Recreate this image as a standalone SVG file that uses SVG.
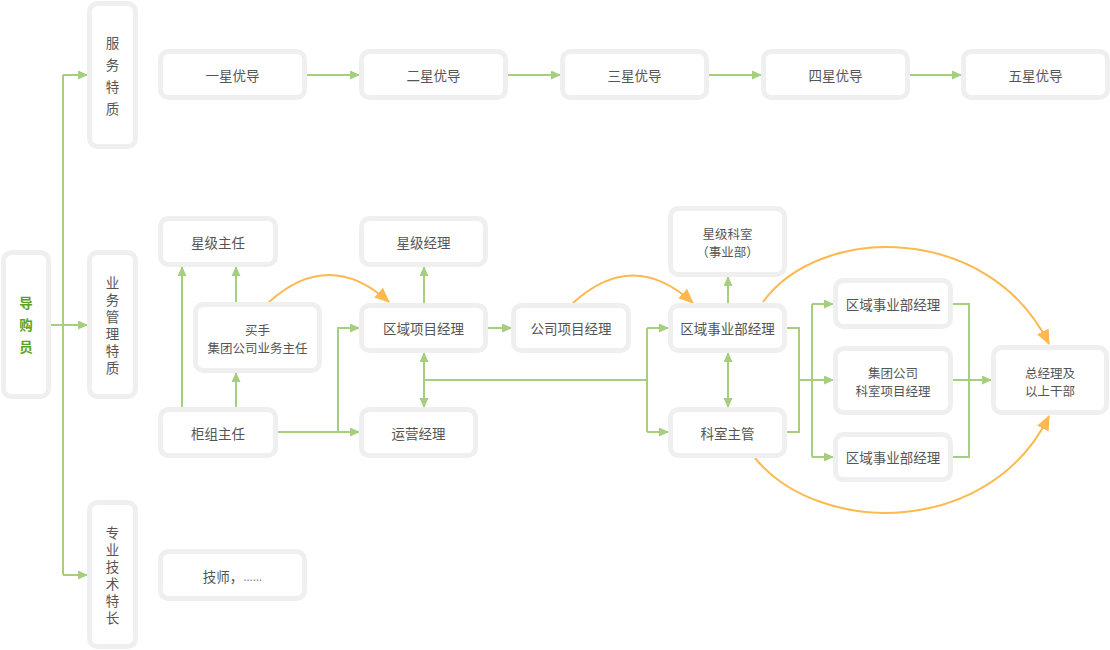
<svg xmlns="http://www.w3.org/2000/svg" width="1110" height="650" viewBox="0 0 1110 650">
<style>
.n rect{fill:#fff;stroke:#efefef;stroke-width:5}
.n text{font-family:"Noto Sans CJK SC","Microsoft YaHei",sans-serif;font-size:13.5px;fill:#555;text-anchor:middle;dominant-baseline:central}
.n text.t{font-size:12.5px}
.n text.v{writing-mode:vertical-rl}
.n text.g{fill:#5aa31c;font-weight:bold}
.c path{fill:none;stroke:#a5cf7f;stroke-width:2}
.c path.a{marker-end:url(#ga)}
.c path.o{stroke:#fdb950;stroke-width:2}
</style>
<defs>
<marker id="ga" markerUnits="userSpaceOnUse" markerWidth="12" markerHeight="10" refX="9" refY="4.5" orient="auto"><path d="M0,0 L10,4.5 L0,9 z" fill="#a5cf7f"/></marker>
<marker id="oa" markerUnits="userSpaceOnUse" markerWidth="16" markerHeight="14" refX="14" refY="6.5" orient="auto"><path d="M0,0 L15,6.5 L0,13 z" fill="#fdb950"/></marker>
</defs>
<g class="c" id="connectors">
<path d="M51,325 H63 M63,75 V575"/>
<path class="a" d="M63,75 H87"/>
<path class="a" d="M63,325 H87"/>
<path class="a" d="M63,575 H87"/>
<path class="a" d="M307,75 H359"/>
<path class="a" d="M508,75 H560"/>
<path class="a" d="M709,75 H761"/>
<path class="a" d="M910,75 H961"/>
<path class="a" d="M182,407 V267"/>
<path class="a" d="M236,302 V267"/>
<path class="a" d="M236,407 V373"/>
<path class="a" d="M278,432 H359"/>
<path class="a" d="M338,432 V328 H359"/>
<path class="a" d="M424,303 V267"/>
<path class="a" d="M424,380 V353"/>
<path class="a" d="M424,380 V407"/>
<path d="M424,380 H647 M647,328 V432"/>
<path class="a" d="M647,328 H668"/>
<path class="a" d="M647,432 H668"/>
<path class="a" d="M488,328 H511"/>
<path class="a" d="M728,303 V277"/>
<path class="a" d="M728,380 V353"/>
<path class="a" d="M728,380 V407"/>
<path d="M787,328 H799 V432 H787 M799,380 H812 M812,304 V457"/>
<path class="a" d="M812,304 H833"/>
<path class="a" d="M812,380 H833"/>
<path class="a" d="M812,457 H833"/>
<path d="M953,304 H969 V457 H953"/>
<path class="a" d="M953,380 H991"/>
<path class="o" marker-end="url(#oa)" d="M269,302 Q329,248 389,302"/>
<path class="o" marker-end="url(#oa)" d="M573,303 Q633,248 693,303"/>
<path class="o" marker-end="url(#oa)" d="M763,302 C820,223 990,223 1049,344"/>
<path class="o" marker-end="url(#oa)" d="M755,458 C820,537 990,537 1049,416"/>
</g>
<g class="n" id="n-daogouyuan"><rect x="3.5" y="252.5" width="45" height="144" rx="8"/><text class="g v" x="26" y="329.5" letter-spacing="8.5">导购员</text></g>
<g class="n" id="n-fuwu"><rect x="89.5" y="3.5" width="46" height="143" rx="8"/><text class="v" x="112.5" y="80" letter-spacing="8.5">服务特质</text></g>
<g class="n" id="n-yewu"><rect x="89.5" y="252.5" width="46" height="144" rx="8"/><text class="v" x="112.5" y="327.5" letter-spacing="3.5">业务管理特质</text></g>
<g class="n" id="n-zhuanye"><rect x="89.5" y="502.5" width="46" height="144" rx="8"/><text class="v" x="112.5" y="577.5" letter-spacing="3.5">专业技术特长</text></g>
<g class="n" id="n-star1"><rect x="160.5" y="51.5" width="144" height="46" rx="8"/><text x="232.5" y="75">一星优导</text></g>
<g class="n" id="n-star2"><rect x="361.5" y="51.5" width="144" height="46" rx="8"/><text x="433.5" y="75">二星优导</text></g>
<g class="n" id="n-star3"><rect x="562.5" y="51.5" width="144" height="46" rx="8"/><text x="634.5" y="75">三星优导</text></g>
<g class="n" id="n-star4"><rect x="763.5" y="51.5" width="144" height="46" rx="8"/><text x="835.5" y="75">四星优导</text></g>
<g class="n" id="n-star5"><rect x="963.5" y="51.5" width="144" height="46" rx="8"/><text x="1035.5" y="75">五星优导</text></g>
<g class="n" id="n-xjzr"><rect x="160.5" y="218.5" width="115" height="46" rx="8"/><text x="218" y="242">星级主任</text></g>
<g class="n" id="n-xjjl"><rect x="361.5" y="218.5" width="124" height="46" rx="8"/><text x="423.5" y="242">星级经理</text></g>
<g class="n" id="n-maishou"><rect x="195.5" y="304.5" width="124" height="66" rx="8"/><text class="t" x="257.5" y="329">买手<tspan x="257.5" dy="18.2">集团公司业务主任</tspan></text></g>
<g class="n" id="n-qyxmjl"><rect x="361.5" y="305.5" width="124" height="45" rx="8"/><text x="423.5" y="328">区域项目经理</text></g>
<g class="n" id="n-gzzr"><rect x="160.5" y="409.5" width="115" height="46" rx="8"/><text x="218" y="433">柜组主任</text></g>
<g class="n" id="n-yyjl"><rect x="361.5" y="409.5" width="114" height="46" rx="8"/><text x="418.5" y="433">运营经理</text></g>
<g class="n" id="n-gsxmjl"><rect x="513.5" y="305.5" width="115" height="45" rx="8"/><text x="571" y="328">公司项目经理</text></g>
<g class="n" id="n-xjks"><rect x="670.5" y="208.5" width="114" height="66" rx="8"/><text class="t" x="727.5" y="233">星级科室<tspan x="727.5" dy="18.2">（事业部）</tspan></text></g>
<g class="n" id="n-qysybjl"><rect x="670.5" y="305.5" width="114" height="45" rx="8"/><text x="727.5" y="328">区域事业部经理</text></g>
<g class="n" id="n-kszg"><rect x="670.5" y="409.5" width="114" height="46" rx="8"/><text x="727.5" y="433">科室主管</text></g>
<g class="n" id="n-qysyb1"><rect x="835.5" y="280.5" width="115" height="46" rx="8"/><text x="893" y="304">区域事业部经理</text></g>
<g class="n" id="n-jtks"><rect x="835.5" y="348.5" width="115" height="64" rx="8"/><text class="t" x="893" y="372">集团公司<tspan x="893" dy="18.2">科室项目经理</tspan></text></g>
<g class="n" id="n-qysyb2"><rect x="835.5" y="434.5" width="115" height="45" rx="8"/><text x="893" y="457">区域事业部经理</text></g>
<g class="n" id="n-zjl"><rect x="993.5" y="347.5" width="113" height="65" rx="8"/><text class="t" x="1050" y="372">总经理及<tspan x="1050" dy="18.2">以上干部</tspan></text></g>
<g class="n" id="n-jishi"><rect x="160.5" y="551.5" width="144" height="47" rx="8"/><text x="232.5" y="576">技师，<tspan font-family="Liberation Sans" textLength="19" lengthAdjust="spacingAndGlyphs">……</tspan></text></g>
</svg>
